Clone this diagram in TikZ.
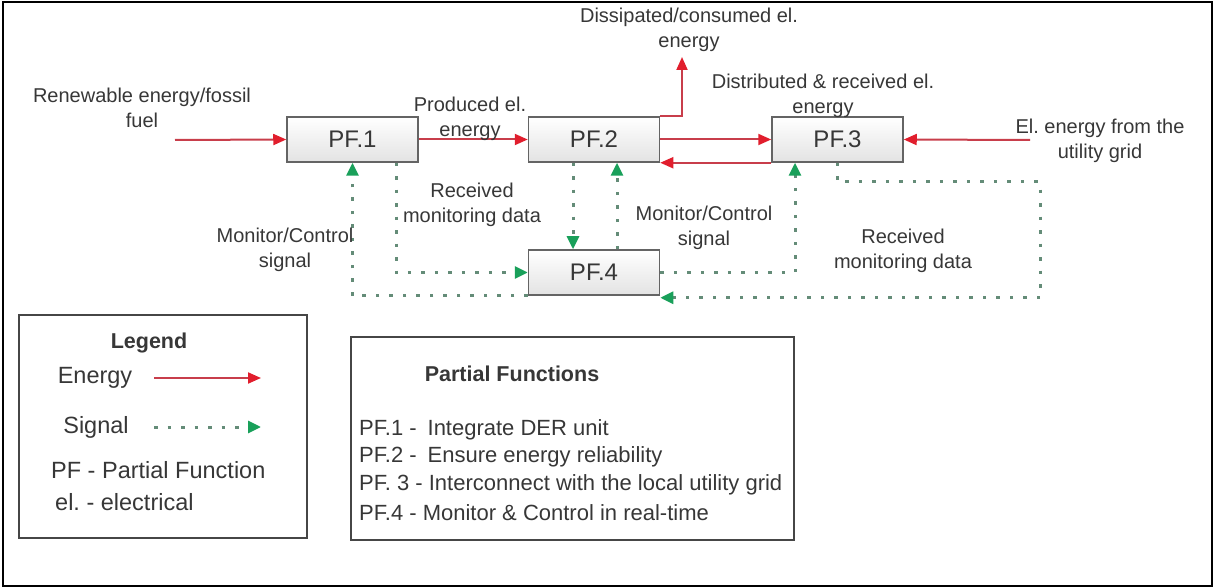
\documentclass[tikz,border=0pt]{standalone}
\usepackage{fontspec}
\setmainfont{Liberation Sans}
\usetikzlibrary{arrows.meta,calc}
\definecolor{enline}{RGB}{200,62,75}
\definecolor{enhead}{RGB}{225,30,45}
\definecolor{sigline}{RGB}{100,140,120}
\definecolor{sighead}{RGB}{25,160,90}
\definecolor{txt}{RGB}{55,55,55}
\definecolor{boxdraw}{RGB}{100,100,100}
\tikzset{
  pfbox/.style={draw=boxdraw, line width=1.5pt, top color=white, bottom color=gray!22,
    minimum width=131pt, minimum height=45pt, inner sep=0pt,
    font=\fontsize{24}{28}\selectfont, text=txt},
  energy/.style={draw=enline, line width=2pt, -{Triangle[length=13pt,width=11pt,color=enhead]}},
  signal/.style={draw=sigline, line width=3pt, dash pattern=on 3.5pt off 10pt,
    -{Triangle[length=13pt,width=12pt,color=sighead]}},
  lbl/.style={align=center, font=\fontsize{20}{25}\selectfont, text=txt, inner sep=0pt},
  leg/.style={font=\fontsize{23.5}{28}\selectfont, text=txt, inner sep=0pt},
  pfl/.style={font=\fontsize{22}{26}\selectfont, text=txt, inner sep=0pt, anchor=west},
  hdr/.style={font=\bfseries\fontsize{21.5}{26}\selectfont, text=txt, inner sep=0pt},
  frame/.style={draw=boxdraw!70!black, line width=1.5pt}
}
\frenchspacing
\begin{document}
\frenchspacing
\begin{tikzpicture}[x=1pt,y=-1pt]
\useasboundingbox (0,0) rectangle (1216,588);
\draw[line width=2pt] (3,2) rectangle (1212,586);

% boxes
\node[pfbox] (p1) at (352.5,139.5) {PF.1};
\node[pfbox] (p2) at (594,139.5) {PF.2};
\node[pfbox] (p3) at (837.5,139.5) {PF.3};
\node[pfbox] (p4) at (594,272.5) {PF.4};

% energy connectors
\coordinate (in1) at (175,140);
\coordinate (grid) at (1030,140);
\coordinate (diss) at (682,57);
\draw[energy] (in1) -- (p1.west);
\draw[energy] (p1.east) -- (p2.west);
\draw[energy] (p2.east) -- (p3.west);
\draw[energy] (p3.south west) -- (p2.south east);
\draw[energy] (grid) -- (p3.east);
\draw[energy] (p2.north east) -| (diss);

% signal connectors
\coordinate (c1) at (1040,182);
\draw[signal] (p4.south west) -| (p1.south);
\draw[signal] ([xshift=43.5pt]p1.south) |- (p4.west);
\draw[signal] ([xshift=-21pt]p2.south) -- ([xshift=-21pt]p4.north);
\draw[signal] ([xshift=23pt]p4.north) -- ([xshift=23pt]p2.south);
\draw[signal] (p4.east) -| ([xshift=-42.5pt]p3.south);
\draw[signal] (p3.south) |- (c1) |- ([yshift=-2pt]p4.south east);

% labels
\node[lbl] (l1) at (142,108) {Renewable energy/fossil\\fuel};
\node[lbl] (l2) at (470,119) {Produced el.\\energy};
\node[lbl] (l3) at (689,29.5) {Dissipated/consumed el.\\energy};
\node[lbl] (l4) at (823,95.5) {Distributed \& received el.\\energy};
\node[lbl] (l5) at (1100,140.5) {El. energy from the\\utility grid};
\node[lbl] (l6) at (472,205) {Received\\monitoring data};
\node[lbl] (l7) at (285,250) {Monitor/Control\\signal};
\node[lbl] (l8) at (704,227.5) {Monitor/Control\\signal};
\node[lbl] (l9) at (903,250.5) {Received\\monitoring data};

% legend
\draw[frame] (19,315) rectangle (307,538);
\node[hdr] (lg) at (149,343) {Legend};
\node[leg] (le) at (95,378) {Energy};
\node[leg] (ls) at (96,427) {Signal};
\coordinate (ea) at (154,378);
\coordinate (eb) at (261,378);
\coordinate (sa) at (154,427);
\coordinate (sb) at (261,427);
\draw[energy] (ea) -- (eb);
\draw[signal] (sa) -- (sb);
\node[leg, anchor=west] (lpf) at (51,470) {PF - Partial Function};
\node[leg, anchor=west] (lel) at (55,502) {el. - electrical};

% partial functions box
\draw[frame] (351,337) rectangle (794,540);
\node[hdr] (ph) at (512,374) {Partial Functions};
\node[pfl] (f1) at (359,430) {PF.1 -\hspace{0.5em}Integrate DER unit};
\node[pfl] (f2) at (359,457) {PF.2 -\hspace{0.5em}Ensure energy reliability};
\node[pfl] (f3) at (359,485) {PF. 3 - Interconnect with the local utility grid};
\node[pfl] (f4) at (359,513) {PF.4 - Monitor \& Control in real-time};
\end{tikzpicture}
\end{document}
